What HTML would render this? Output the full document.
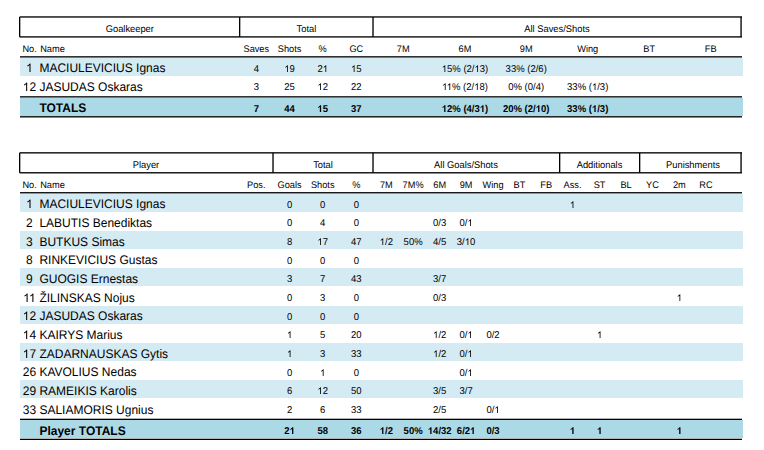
<!DOCTYPE html>
<html><head><meta charset="utf-8"><title>Stats</title><style>
*{margin:0;padding:0}
html,body{width:764px;height:450px;background:#fff;overflow:hidden}
svg{position:absolute;left:0;top:0;font-family:"Liberation Sans",sans-serif;text-rendering:geometricPrecision;fill:#000}
.h{font-size:9.33px}
.n{font-size:12px}
.v{font-size:9.5px}
.k{font-size:9.22px}
.b{font-weight:bold}
.c{text-anchor:middle}
.z{fill:none}
</style></head><body>
<svg width="764" height="450" viewBox="0 0 764 450">
<rect x="19.67" y="16.30" width="722.33" height="1.33" fill="#000"/>
<rect x="19.67" y="36.25" width="722.33" height="1.33" fill="#000"/>
<rect x="19.00" y="16.97" width="1.33" height="19.95" fill="#000"/>
<rect x="239.00" y="16.97" width="1.33" height="19.95" fill="#000"/>
<rect x="372.35" y="16.97" width="1.33" height="19.95" fill="#000"/>
<rect x="740.40" y="16.97" width="1.33" height="19.95" fill="#000"/>
<rect x="20.00" y="56.20" width="722.00" height="1.33" fill="#000"/>
<rect x="20.00" y="58.00" width="723.00" height="18.00" fill="#d5ebf3"/>
<rect x="20.00" y="98.00" width="723.00" height="18.00" fill="#acd9e6"/>
<rect x="20.00" y="96.20" width="722.00" height="1.33" fill="#000"/>
<rect x="20.00" y="116.15" width="722.00" height="1.33" fill="#000"/>
<rect x="19.67" y="152.18" width="722.33" height="1.33" fill="#000"/>
<rect x="19.67" y="172.13" width="722.33" height="1.33" fill="#000"/>
<rect x="19.00" y="152.85" width="1.33" height="19.95" fill="#000"/>
<rect x="272.35" y="152.85" width="1.33" height="19.95" fill="#000"/>
<rect x="372.35" y="152.85" width="1.33" height="19.95" fill="#000"/>
<rect x="559.00" y="152.85" width="1.33" height="19.95" fill="#000"/>
<rect x="639.00" y="152.85" width="1.33" height="19.95" fill="#000"/>
<rect x="740.40" y="152.85" width="1.33" height="19.95" fill="#000"/>
<rect x="20.00" y="192.10" width="722.00" height="1.33" fill="#000"/>
<rect x="20.00" y="194.00" width="723.00" height="18.00" fill="#d5ebf3"/>
<rect x="20.00" y="231.00" width="723.00" height="18.00" fill="#d5ebf3"/>
<rect x="20.00" y="268.00" width="723.00" height="18.00" fill="#d5ebf3"/>
<rect x="20.00" y="306.00" width="723.00" height="18.00" fill="#d5ebf3"/>
<rect x="20.00" y="343.00" width="723.00" height="18.00" fill="#d5ebf3"/>
<rect x="20.00" y="380.00" width="723.00" height="18.00" fill="#d5ebf3"/>
<rect x="20.00" y="420.00" width="723.00" height="18.00" fill="#acd9e6"/>
<rect x="20.00" y="418.70" width="722.00" height="1.30" fill="#000"/>
<rect x="20.00" y="438.70" width="722.00" height="1.30" fill="#000"/>
<text class="h c" transform="translate(129.8,32) scale(1,1.04)">Goalkeeper</text>
<text class="h c" transform="translate(306.4,32) scale(1,1.04)">Total</text>
<text class="h c" transform="translate(557,32) scale(1,1.04)">All Saves/Shots</text>
<text class="k" transform="translate(22.4,52) scale(1,1.04)">No.</text>
<text class="k" transform="translate(40.2,52) scale(1,1.04)">Name</text>
<text class="k c" transform="translate(256.3,52) scale(1,1.04)">Saves</text>
<text class="k c" transform="translate(289.6,52) scale(1,1.04)">Shots</text>
<text class="k c" transform="translate(322.7,52) scale(1,1.04)">%</text>
<text class="k c" transform="translate(356.3,52) scale(1,1.04)">GC</text>
<text class="k c" transform="translate(403.2,52) scale(1,1.04)">7M</text>
<text class="k c" transform="translate(465,52) scale(1,1.04)">6M</text>
<text class="k c" transform="translate(526.2,52) scale(1,1.04)">9M</text>
<text class="k c" transform="translate(587.7,52) scale(1,1.04)">Wing</text>
<text class="k c" transform="translate(649.2,52) scale(1,1.04)">BT</text>
<text class="k c" transform="translate(710.7,52) scale(1,1.04)">FB</text>
<text class="n c" transform="translate(29.4,72) scale(1,1.04)"><tspan class="z">1</tspan></text>
<text class="n" transform="translate(39.4,72) scale(1,1.04)">MACIULEVICIUS Ignas</text>
<text class="v c" transform="translate(256.3,72) scale(1,1.04)">4</text>
<text class="v c" transform="translate(289.6,72) scale(1,1.04)"><tspan class="z">1</tspan>9</text>
<text class="v c" transform="translate(322.7,72) scale(1,1.04)">2<tspan class="z">1</tspan></text>
<text class="v c" transform="translate(356.3,72) scale(1,1.04)"><tspan class="z">1</tspan>5</text>
<text class="v c" transform="translate(465,72) scale(1,1.04)"><tspan class="z">1</tspan>5% (2/<tspan class="z">1</tspan>3)</text>
<text class="v c" transform="translate(526.2,72) scale(1,1.04)">33% (2/6)</text>
<text class="n c" transform="translate(29.4,91) scale(1,1.04)"><tspan class="z">1</tspan>2</text>
<text class="n" transform="translate(39.4,91) scale(1,1.04)">JASUDAS Oskaras</text>
<text class="v c" transform="translate(256.3,90) scale(1,1.04)">3</text>
<text class="v c" transform="translate(289.6,90) scale(1,1.04)">25</text>
<text class="v c" transform="translate(322.7,90) scale(1,1.04)"><tspan class="z">1</tspan>2</text>
<text class="v c" transform="translate(356.3,90) scale(1,1.04)">22</text>
<text class="v c" transform="translate(465,90) scale(1,1.04)"><tspan class="z">1</tspan><tspan class="z">1</tspan>% (2/<tspan class="z">1</tspan>8)</text>
<text class="v c" transform="translate(526.2,90) scale(1,1.04)">0% (0/4)</text>
<text class="v c" transform="translate(587.7,90) scale(1,1.04)">33% (<tspan class="z">1</tspan>/3)</text>
<text class="n b" transform="translate(39.4,112) scale(1,1.04)">TOTALS</text>
<text class="v b c" transform="translate(256.3,112) scale(1,1.04)">7</text>
<text class="v b c" transform="translate(289.6,112) scale(1,1.04)">44</text>
<text class="v b c" transform="translate(322.7,112) scale(1,1.04)"><tspan class="z">1</tspan>5</text>
<text class="v b c" transform="translate(356.3,112) scale(1,1.04)">37</text>
<text class="v b c" transform="translate(465,112) scale(1,1.04)"><tspan class="z">1</tspan>2% (4/3<tspan class="z">1</tspan>)</text>
<text class="v b c" transform="translate(526.2,112) scale(1,1.04)">20% (2/<tspan class="z">1</tspan>0)</text>
<text class="v b c" transform="translate(587.7,112) scale(1,1.04)">33% (<tspan class="z">1</tspan>/3)</text>
<text class="h c" transform="translate(146,168) scale(1,1.04)">Player</text>
<text class="h c" transform="translate(323,168) scale(1,1.04)">Total</text>
<text class="h c" transform="translate(466,168) scale(1,1.04)">All Goals/Shots</text>
<text class="h c" transform="translate(599.5,168) scale(1,1.04)">Additionals</text>
<text class="h c" transform="translate(693,168) scale(1,1.04)">Punishments</text>
<text class="k" transform="translate(22.4,188) scale(1,1.04)">No.</text>
<text class="k" transform="translate(40.2,188) scale(1,1.04)">Name</text>
<text class="k c" transform="translate(256.3,188) scale(1,1.04)">Pos.</text>
<text class="k c" transform="translate(289.6,188) scale(1,1.04)">Goals</text>
<text class="k c" transform="translate(322.7,188) scale(1,1.04)">Shots</text>
<text class="k c" transform="translate(356.3,188) scale(1,1.04)">%</text>
<text class="k c" transform="translate(386.3,188) scale(1,1.04)">7M</text>
<text class="k c" transform="translate(413.1,188) scale(1,1.04)">7M%</text>
<text class="k c" transform="translate(439.7,188) scale(1,1.04)">6M</text>
<text class="k c" transform="translate(466.1,188) scale(1,1.04)">9M</text>
<text class="k c" transform="translate(493,188) scale(1,1.04)">Wing</text>
<text class="k c" transform="translate(519.5,188) scale(1,1.04)">BT</text>
<text class="k c" transform="translate(546.2,188) scale(1,1.04)">FB</text>
<text class="k c" transform="translate(572.5,188) scale(1,1.04)">Ass.</text>
<text class="k c" transform="translate(599.6,188) scale(1,1.04)">ST</text>
<text class="k c" transform="translate(626.1,188) scale(1,1.04)">BL</text>
<text class="k c" transform="translate(652.5,188) scale(1,1.04)">YC</text>
<text class="k c" transform="translate(679.4,188) scale(1,1.04)">2m</text>
<text class="k c" transform="translate(706,188) scale(1,1.04)">RC</text>
<text class="n c" transform="translate(29.4,208) scale(1,1.04)"><tspan class="z">1</tspan></text>
<text class="n" transform="translate(39.4,208) scale(1,1.04)">MACIULEVICIUS Ignas</text>
<text class="v c" transform="translate(289.6,208) scale(1,1.04)">0</text>
<text class="v c" transform="translate(322.7,208) scale(1,1.04)">0</text>
<text class="v c" transform="translate(356.3,208) scale(1,1.04)">0</text>
<text class="v c" transform="translate(572.5,208) scale(1,1.04)"><tspan class="z">1</tspan></text>
<text class="n c" transform="translate(29.4,227) scale(1,1.04)">2</text>
<text class="n" transform="translate(39.4,227) scale(1,1.04)">LABUTIS Benediktas</text>
<text class="v c" transform="translate(289.6,226) scale(1,1.04)">0</text>
<text class="v c" transform="translate(322.7,226) scale(1,1.04)">4</text>
<text class="v c" transform="translate(356.3,226) scale(1,1.04)">0</text>
<text class="v c" transform="translate(439.7,226) scale(1,1.04)">0/3</text>
<text class="v c" transform="translate(466.1,226) scale(1,1.04)">0/<tspan class="z">1</tspan></text>
<text class="n c" transform="translate(29.4,246) scale(1,1.04)">3</text>
<text class="n" transform="translate(39.4,246) scale(1,1.04)">BUTKUS Simas</text>
<text class="v c" transform="translate(289.6,245) scale(1,1.04)">8</text>
<text class="v c" transform="translate(322.7,245) scale(1,1.04)"><tspan class="z">1</tspan>7</text>
<text class="v c" transform="translate(356.3,245) scale(1,1.04)">47</text>
<text class="v c" transform="translate(386.3,245) scale(1,1.04)"><tspan class="z">1</tspan>/2</text>
<text class="v c" transform="translate(413.1,245) scale(1,1.04)">50%</text>
<text class="v c" transform="translate(439.7,245) scale(1,1.04)">4/5</text>
<text class="v c" transform="translate(466.1,245) scale(1,1.04)">3/<tspan class="z">1</tspan>0</text>
<text class="n c" transform="translate(29.4,264) scale(1,1.04)">8</text>
<text class="n" transform="translate(39.4,264) scale(1,1.04)">RINKEVICIUS Gustas</text>
<text class="v c" transform="translate(289.6,264) scale(1,1.04)">0</text>
<text class="v c" transform="translate(322.7,264) scale(1,1.04)">0</text>
<text class="v c" transform="translate(356.3,264) scale(1,1.04)">0</text>
<text class="n c" transform="translate(29.4,283) scale(1,1.04)">9</text>
<text class="n" transform="translate(39.4,283) scale(1,1.04)">GUOGIS Ernestas</text>
<text class="v c" transform="translate(289.6,282) scale(1,1.04)">3</text>
<text class="v c" transform="translate(322.7,282) scale(1,1.04)">7</text>
<text class="v c" transform="translate(356.3,282) scale(1,1.04)">43</text>
<text class="v c" transform="translate(439.7,282) scale(1,1.04)">3/7</text>
<text class="n c" transform="translate(29.4,302) scale(1,1.04)"><tspan class="z">1</tspan><tspan class="z">1</tspan></text>
<text class="n" transform="translate(39.4,302) scale(1,1.04)">ŽILINSKAS Nojus</text>
<text class="v c" transform="translate(289.6,301) scale(1,1.04)">0</text>
<text class="v c" transform="translate(322.7,301) scale(1,1.04)">3</text>
<text class="v c" transform="translate(356.3,301) scale(1,1.04)">0</text>
<text class="v c" transform="translate(439.7,301) scale(1,1.04)">0/3</text>
<text class="v c" transform="translate(679.4,301) scale(1,1.04)"><tspan class="z">1</tspan></text>
<text class="n c" transform="translate(29.4,320) scale(1,1.04)"><tspan class="z">1</tspan>2</text>
<text class="n" transform="translate(39.4,320) scale(1,1.04)">JASUDAS Oskaras</text>
<text class="v c" transform="translate(289.6,320) scale(1,1.04)">0</text>
<text class="v c" transform="translate(322.7,320) scale(1,1.04)">0</text>
<text class="v c" transform="translate(356.3,320) scale(1,1.04)">0</text>
<text class="n c" transform="translate(29.4,339) scale(1,1.04)"><tspan class="z">1</tspan>4</text>
<text class="n" transform="translate(39.4,339) scale(1,1.04)">KAIRYS Marius</text>
<text class="v c" transform="translate(289.6,338) scale(1,1.04)"><tspan class="z">1</tspan></text>
<text class="v c" transform="translate(322.7,338) scale(1,1.04)">5</text>
<text class="v c" transform="translate(356.3,338) scale(1,1.04)">20</text>
<text class="v c" transform="translate(439.7,338) scale(1,1.04)"><tspan class="z">1</tspan>/2</text>
<text class="v c" transform="translate(466.1,338) scale(1,1.04)">0/<tspan class="z">1</tspan></text>
<text class="v c" transform="translate(493,338) scale(1,1.04)">0/2</text>
<text class="v c" transform="translate(599.6,338) scale(1,1.04)"><tspan class="z">1</tspan></text>
<text class="n c" transform="translate(29.4,358) scale(1,1.04)"><tspan class="z">1</tspan>7</text>
<text class="n" transform="translate(39.4,358) scale(1,1.04)">ZADARNAUSKAS Gytis</text>
<text class="v c" transform="translate(289.6,357) scale(1,1.04)"><tspan class="z">1</tspan></text>
<text class="v c" transform="translate(322.7,357) scale(1,1.04)">3</text>
<text class="v c" transform="translate(356.3,357) scale(1,1.04)">33</text>
<text class="v c" transform="translate(439.7,357) scale(1,1.04)"><tspan class="z">1</tspan>/2</text>
<text class="v c" transform="translate(466.1,357) scale(1,1.04)">0/<tspan class="z">1</tspan></text>
<text class="n c" transform="translate(29.4,376) scale(1,1.04)">26</text>
<text class="n" transform="translate(39.4,376) scale(1,1.04)">KAVOLIUS Nedas</text>
<text class="v c" transform="translate(289.6,376) scale(1,1.04)">0</text>
<text class="v c" transform="translate(322.7,376) scale(1,1.04)"><tspan class="z">1</tspan></text>
<text class="v c" transform="translate(356.3,376) scale(1,1.04)">0</text>
<text class="v c" transform="translate(466.1,376) scale(1,1.04)">0/<tspan class="z">1</tspan></text>
<text class="n c" transform="translate(29.4,395) scale(1,1.04)">29</text>
<text class="n" transform="translate(39.4,395) scale(1,1.04)">RAMEIKIS Karolis</text>
<text class="v c" transform="translate(289.6,394) scale(1,1.04)">6</text>
<text class="v c" transform="translate(322.7,394) scale(1,1.04)"><tspan class="z">1</tspan>2</text>
<text class="v c" transform="translate(356.3,394) scale(1,1.04)">50</text>
<text class="v c" transform="translate(439.7,394) scale(1,1.04)">3/5</text>
<text class="v c" transform="translate(466.1,394) scale(1,1.04)">3/7</text>
<text class="n c" transform="translate(29.4,414) scale(1,1.04)">33</text>
<text class="n" transform="translate(39.4,414) scale(1,1.04)">SALIAMORIS Ugnius</text>
<text class="v c" transform="translate(289.6,413) scale(1,1.04)">2</text>
<text class="v c" transform="translate(322.7,413) scale(1,1.04)">6</text>
<text class="v c" transform="translate(356.3,413) scale(1,1.04)">33</text>
<text class="v c" transform="translate(439.7,413) scale(1,1.04)">2/5</text>
<text class="v c" transform="translate(493,413) scale(1,1.04)">0/<tspan class="z">1</tspan></text>
<text class="n b" transform="translate(39.4,435) scale(1,1.04)">Player TOTALS</text>
<text class="v b c" transform="translate(289.6,434) scale(1,1.04)">2<tspan class="z">1</tspan></text>
<text class="v b c" transform="translate(322.7,434) scale(1,1.04)">58</text>
<text class="v b c" transform="translate(356.3,434) scale(1,1.04)">36</text>
<text class="v b c" transform="translate(386.3,434) scale(1,1.04)"><tspan class="z">1</tspan>/2</text>
<text class="v b c" transform="translate(413.1,434) scale(1,1.04)">50%</text>
<text class="v b c" transform="translate(439.7,434) scale(1,1.04)"><tspan class="z">1</tspan>4/32</text>
<text class="v b c" transform="translate(466.1,434) scale(1,1.04)">6/2<tspan class="z">1</tspan></text>
<text class="v b c" transform="translate(493,434) scale(1,1.04)">0/3</text>
<text class="v b c" transform="translate(572.5,434) scale(1,1.04)"><tspan class="z">1</tspan></text>
<text class="v b c" transform="translate(599.6,434) scale(1,1.04)"><tspan class="z">1</tspan></text>
<text class="v b c" transform="translate(679.4,434) scale(1,1.04)"><tspan class="z">1</tspan></text>
<path transform="translate(26.06,72) scale(0.005859,-0.005859)" d="M763 0H583V1147Q518 1085 412.5 1023T223 930V1104Q374 1175 487 1276T647 1472H763Z"/>
<path transform="translate(284.30,72) scale(0.004639,-0.004639)" d="M763 0H583V1147Q518 1085 412.5 1023T223 930V1104Q374 1175 487 1276T647 1472H763Z"/>
<path transform="translate(322.70,72) scale(0.004639,-0.004639)" d="M763 0H583V1147Q518 1085 412.5 1023T223 930V1104Q374 1175 487 1276T647 1472H763Z"/>
<path transform="translate(351.00,72) scale(0.004639,-0.004639)" d="M763 0H583V1147Q518 1085 412.5 1023T223 930V1104Q374 1175 487 1276T647 1472H763Z"/>
<path transform="translate(441.74,72) scale(0.004639,-0.004639)" d="M763 0H583V1147Q518 1085 412.5 1023T223 930V1104Q374 1175 487 1276T647 1472H763Z"/>
<path transform="translate(474.51,72) scale(0.004639,-0.004639)" d="M763 0H583V1147Q518 1085 412.5 1023T223 930V1104Q374 1175 487 1276T647 1472H763Z"/>
<path transform="translate(22.71,91) scale(0.005859,-0.005859)" d="M763 0H583V1147Q518 1085 412.5 1023T223 930V1104Q374 1175 487 1276T647 1472H763Z"/>
<path transform="translate(317.40,90) scale(0.004639,-0.004639)" d="M763 0H583V1147Q518 1085 412.5 1023T223 930V1104Q374 1175 487 1276T647 1472H763Z"/>
<path transform="translate(442.09,90) scale(0.004639,-0.004639)" d="M763 0H583V1147Q518 1085 412.5 1023T223 930V1104Q374 1175 487 1276T647 1472H763Z"/>
<path transform="translate(446.68,90) scale(0.004639,-0.004639)" d="M763 0H583V1147Q518 1085 412.5 1023T223 930V1104Q374 1175 487 1276T647 1472H763Z"/>
<path transform="translate(474.16,90) scale(0.004639,-0.004639)" d="M763 0H583V1147Q518 1085 412.5 1023T223 930V1104Q374 1175 487 1276T647 1472H763Z"/>
<path transform="translate(591.92,90) scale(0.004639,-0.004639)" d="M763 0H583V1147Q518 1085 412.5 1023T223 930V1104Q374 1175 487 1276T647 1472H763Z"/>
<path transform="translate(317.40,112) scale(0.004639,-0.004639)" d="M806 0H525V1059Q371 915 162 846V1101Q272 1137 401 1237.5T578 1472H806Z"/>
<path transform="translate(441.74,112) scale(0.004639,-0.004639)" d="M806 0H525V1059Q371 915 162 846V1101Q272 1137 401 1237.5T578 1472H806Z"/>
<path transform="translate(479.79,112) scale(0.004639,-0.004639)" d="M806 0H525V1059Q371 915 162 846V1101Q272 1137 401 1237.5T578 1472H806Z"/>
<path transform="translate(535.70,112) scale(0.004639,-0.004639)" d="M806 0H525V1059Q371 915 162 846V1101Q272 1137 401 1237.5T578 1472H806Z"/>
<path transform="translate(591.92,112) scale(0.004639,-0.004639)" d="M806 0H525V1059Q371 915 162 846V1101Q272 1137 401 1237.5T578 1472H806Z"/>
<path transform="translate(26.06,208) scale(0.005859,-0.005859)" d="M763 0H583V1147Q518 1085 412.5 1023T223 930V1104Q374 1175 487 1276T647 1472H763Z"/>
<path transform="translate(569.85,208) scale(0.004639,-0.004639)" d="M763 0H583V1147Q518 1085 412.5 1023T223 930V1104Q374 1175 487 1276T647 1472H763Z"/>
<path transform="translate(467.42,226) scale(0.004639,-0.004639)" d="M763 0H583V1147Q518 1085 412.5 1023T223 930V1104Q374 1175 487 1276T647 1472H763Z"/>
<path transform="translate(317.40,245) scale(0.004639,-0.004639)" d="M763 0H583V1147Q518 1085 412.5 1023T223 930V1104Q374 1175 487 1276T647 1472H763Z"/>
<path transform="translate(379.68,245) scale(0.004639,-0.004639)" d="M763 0H583V1147Q518 1085 412.5 1023T223 930V1104Q374 1175 487 1276T647 1472H763Z"/>
<path transform="translate(464.77,245) scale(0.004639,-0.004639)" d="M763 0H583V1147Q518 1085 412.5 1023T223 930V1104Q374 1175 487 1276T647 1472H763Z"/>
<path transform="translate(23.16,302) scale(0.005859,-0.005859)" d="M763 0H583V1147Q518 1085 412.5 1023T223 930V1104Q374 1175 487 1276T647 1472H763Z"/>
<path transform="translate(28.95,302) scale(0.005859,-0.005859)" d="M763 0H583V1147Q518 1085 412.5 1023T223 930V1104Q374 1175 487 1276T647 1472H763Z"/>
<path transform="translate(676.75,301) scale(0.004639,-0.004639)" d="M763 0H583V1147Q518 1085 412.5 1023T223 930V1104Q374 1175 487 1276T647 1472H763Z"/>
<path transform="translate(22.71,320) scale(0.005859,-0.005859)" d="M763 0H583V1147Q518 1085 412.5 1023T223 930V1104Q374 1175 487 1276T647 1472H763Z"/>
<path transform="translate(22.71,339) scale(0.005859,-0.005859)" d="M763 0H583V1147Q518 1085 412.5 1023T223 930V1104Q374 1175 487 1276T647 1472H763Z"/>
<path transform="translate(286.95,338) scale(0.004639,-0.004639)" d="M763 0H583V1147Q518 1085 412.5 1023T223 930V1104Q374 1175 487 1276T647 1472H763Z"/>
<path transform="translate(433.08,338) scale(0.004639,-0.004639)" d="M763 0H583V1147Q518 1085 412.5 1023T223 930V1104Q374 1175 487 1276T647 1472H763Z"/>
<path transform="translate(467.42,338) scale(0.004639,-0.004639)" d="M763 0H583V1147Q518 1085 412.5 1023T223 930V1104Q374 1175 487 1276T647 1472H763Z"/>
<path transform="translate(596.95,338) scale(0.004639,-0.004639)" d="M763 0H583V1147Q518 1085 412.5 1023T223 930V1104Q374 1175 487 1276T647 1472H763Z"/>
<path transform="translate(22.71,358) scale(0.005859,-0.005859)" d="M763 0H583V1147Q518 1085 412.5 1023T223 930V1104Q374 1175 487 1276T647 1472H763Z"/>
<path transform="translate(286.95,357) scale(0.004639,-0.004639)" d="M763 0H583V1147Q518 1085 412.5 1023T223 930V1104Q374 1175 487 1276T647 1472H763Z"/>
<path transform="translate(433.08,357) scale(0.004639,-0.004639)" d="M763 0H583V1147Q518 1085 412.5 1023T223 930V1104Q374 1175 487 1276T647 1472H763Z"/>
<path transform="translate(467.42,357) scale(0.004639,-0.004639)" d="M763 0H583V1147Q518 1085 412.5 1023T223 930V1104Q374 1175 487 1276T647 1472H763Z"/>
<path transform="translate(320.05,376) scale(0.004639,-0.004639)" d="M763 0H583V1147Q518 1085 412.5 1023T223 930V1104Q374 1175 487 1276T647 1472H763Z"/>
<path transform="translate(467.42,376) scale(0.004639,-0.004639)" d="M763 0H583V1147Q518 1085 412.5 1023T223 930V1104Q374 1175 487 1276T647 1472H763Z"/>
<path transform="translate(317.40,394) scale(0.004639,-0.004639)" d="M763 0H583V1147Q518 1085 412.5 1023T223 930V1104Q374 1175 487 1276T647 1472H763Z"/>
<path transform="translate(494.32,413) scale(0.004639,-0.004639)" d="M763 0H583V1147Q518 1085 412.5 1023T223 930V1104Q374 1175 487 1276T647 1472H763Z"/>
<path transform="translate(289.60,434) scale(0.004639,-0.004639)" d="M806 0H525V1059Q371 915 162 846V1101Q272 1137 401 1237.5T578 1472H806Z"/>
<path transform="translate(379.68,434) scale(0.004639,-0.004639)" d="M806 0H525V1059Q371 915 162 846V1101Q272 1137 401 1237.5T578 1472H806Z"/>
<path transform="translate(427.80,434) scale(0.004639,-0.004639)" d="M806 0H525V1059Q371 915 162 846V1101Q272 1137 401 1237.5T578 1472H806Z"/>
<path transform="translate(470.06,434) scale(0.004639,-0.004639)" d="M806 0H525V1059Q371 915 162 846V1101Q272 1137 401 1237.5T578 1472H806Z"/>
<path transform="translate(569.85,434) scale(0.004639,-0.004639)" d="M806 0H525V1059Q371 915 162 846V1101Q272 1137 401 1237.5T578 1472H806Z"/>
<path transform="translate(596.95,434) scale(0.004639,-0.004639)" d="M806 0H525V1059Q371 915 162 846V1101Q272 1137 401 1237.5T578 1472H806Z"/>
<path transform="translate(676.75,434) scale(0.004639,-0.004639)" d="M806 0H525V1059Q371 915 162 846V1101Q272 1137 401 1237.5T578 1472H806Z"/>
</svg>
</body></html>
